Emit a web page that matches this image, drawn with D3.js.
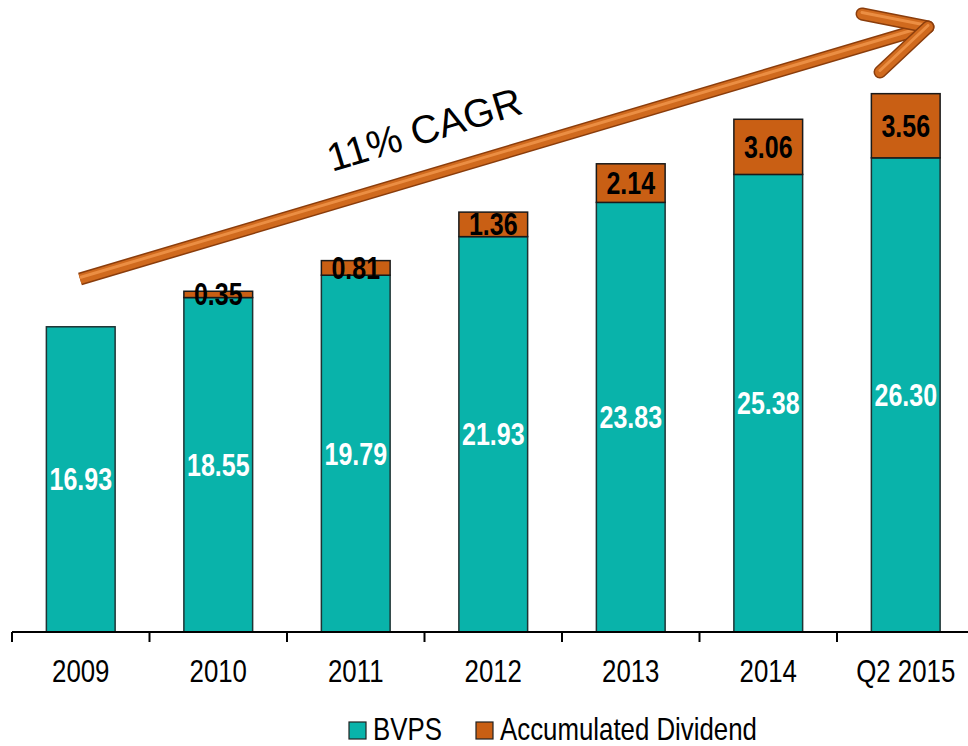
<!DOCTYPE html>
<html><head><meta charset="utf-8">
<script src="https://cdn.jsdelivr.net/npm/d3@7/dist/d3.min.js"></script>
<style>
html,body{margin:0;padding:0;background:#fff;}
svg{display:block;}
text{font-family:"Liberation Sans",Arial,sans-serif;}
</style></head>
<body>
<svg id="chart" width="968" height="746"></svg>
<script>
const categories = ["2009","2010","2011","2012","2013","2014","Q2 2015"];
const bvps = [16.93,18.55,19.79,21.93,23.83,25.38,26.30];
const dividend = [null,0.35,0.81,1.36,2.14,3.06,3.56];
const seriesNames = ["BVPS","Accumulated Dividend"];
const annotation = "11% CAGR";

const colors = {bvps:"#09B3AA", div:"#C95F14"};
const svg = d3.select("#chart");
const W = 968, H = 746;
const NARROW = 0.82;

const x = d3.scaleBand().domain(categories).range([12, 974.5]).paddingInner(0.5).paddingOuter(0.25);
const y = d3.scaleLinear().domain([0,35]).range([632, 1]);

const data = categories.map((c,i)=>({c, b:bvps[i], d:dividend[i]||0, dl:dividend[i]}));

function ntext(sel, px, py){
  return sel.attr("x",0).attr("y",0)
    .attr("transform", (d,i)=>`translate(${typeof px==="function"?px(d,i):px},${typeof py==="function"?py(d,i):py}) scale(${NARROW},1)`);
}

// bars
const bars = svg.append("g");
bars.selectAll("rect.b").data(data).join("rect")
  .attr("x", d=>x(d.c)).attr("width", x.bandwidth())
  .attr("y", d=>y(d.b)).attr("height", d=>y(0)-y(d.b))
  .attr("fill", colors.bvps).attr("stroke","#1e3434").attr("stroke-width",1.5);
bars.selectAll("rect.d").data(data.filter(d=>d.d>0)).join("rect")
  .attr("x", d=>x(d.c)).attr("width", x.bandwidth())
  .attr("y", d=>y(d.b+d.d)).attr("height", d=>y(d.b)-y(d.b+d.d))
  .attr("fill", colors.div).attr("stroke","#1a1a1a").attr("stroke-width",1.5);

// labels
ntext(svg.append("g").selectAll("text").data(data).join("text"),
  d=>x(d.c)+x.bandwidth()/2, d=>y(d.b/2))
  .attr("dy","0.36em")
  .attr("text-anchor","middle").attr("font-size",30.5).attr("font-weight","bold")
  .attr("fill","#fff").text(d=>d.b.toFixed(2));
ntext(svg.append("g").selectAll("text").data(data.filter(d=>d.d>0)).join("text"),
  d=>x(d.c)+x.bandwidth()/2, d=>y(d.b+d.d/2))
  .attr("dy","0.36em")
  .attr("text-anchor","middle").attr("font-size",30.5).attr("font-weight","bold")
  .attr("fill","#000").text(d=>d.dl.toFixed(2));

// axis
const ax = svg.append("g");
ax.append("line").attr("x1",x.range()[0]).attr("x2",W).attr("y1",y(0)).attr("y2",y(0))
  .attr("stroke","#000").attr("stroke-width",2);
const gap = (x.step()-x.bandwidth())/2;
ax.selectAll("line.t").data(categories).join("line")
  .attr("x1",d=>x(d)-gap).attr("x2",d=>x(d)-gap)
  .attr("y1",y(0)).attr("y2",y(0)+10).attr("stroke","#000").attr("stroke-width",2);
ntext(ax.selectAll("text").data(categories).join("text"),
  d=>x(d)+x.bandwidth()/2, 682)
  .attr("text-anchor","middle").attr("font-size",31.5).attr("fill","#000").text(d=>d);

// legend
const leg = svg.append("g");
const legItems = [{n:seriesNames[0],c:colors.bvps,x:349},{n:seriesNames[1],c:colors.div,x:476}];
legItems.forEach(it=>{
  leg.append("rect").attr("x",it.x).attr("y",722).attr("width",17).attr("height",17)
    .attr("fill",it.c).attr("stroke","#222").attr("stroke-width",1.2);
  ntext(leg.append("text"), it.x+24, 740)
    .attr("font-size",31.5).attr("fill","#000").text(it.n);
});

// arrow (decorative annotation)
const start=[80,279], tip=[928,27], up=[862,14], low=[880,72];
const ag = svg.append("g");
function tube(p1,p2,cap){
  ag.append("line").attr("x1",p1[0]).attr("y1",p1[1]).attr("x2",p2[0]).attr("y2",p2[1])
    .attr("stroke","#8a3d0c").attr("stroke-width",13).attr("stroke-linecap",cap);
  ag.append("line").attr("x1",p1[0]).attr("y1",p1[1]).attr("x2",p2[0]).attr("y2",p2[1])
    .attr("stroke","#d06a1e").attr("stroke-width",10).attr("stroke-linecap",cap);
  ag.append("line").attr("x1",p1[0]).attr("y1",p1[1]-1.5).attr("x2",p2[0]).attr("y2",p2[1]-1.5)
    .attr("stroke","#f0954a").attr("stroke-width",3).attr("stroke-linecap",cap).attr("opacity",0.85);
}
tube(start,tip,"butt");
tube(up,tip,"round");
tube(low,tip,"round");

svg.append("text").attr("x",332).attr("y",172)
  .attr("transform","rotate(-17,332,172)")
  .attr("font-size",39.5).attr("fill","#000")
  .text(annotation);
</script>
</body></html>
